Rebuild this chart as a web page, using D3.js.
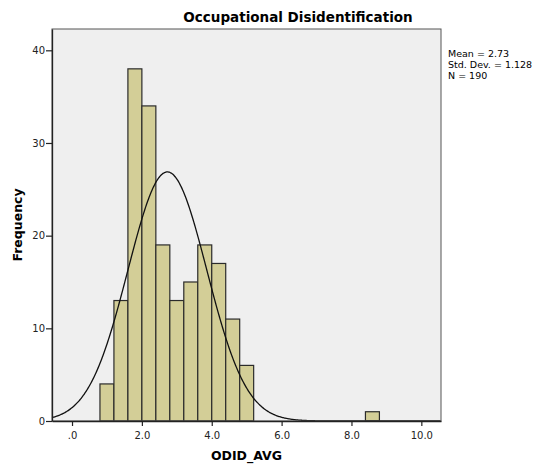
<!DOCTYPE html>
<html>
<head>
<meta charset="utf-8">
<script src="https://cdn.jsdelivr.net/npm/d3@7"></script>
<style>
  body { margin: 0; background: #fff; }
  text { font-family: "DejaVu Sans", sans-serif; }
</style>
</head>
<body>
<div id="chart"></div>
<script>
// histogram bins (lower edges) and counts
var binStarts = [0.8, 1.2, 1.6, 2.0, 2.4, 2.8, 3.2, 3.6, 4.0, 4.4, 4.8, 8.4];
var binCounts = [4, 13, 38, 34, 19, 13, 15, 19, 17, 11, 6, 1];
var binWidth = 0.4;

var xTicks = [0, 2, 4, 6, 8, 10];
var yTicks = [0, 10, 20, 30, 40];

var statMean = 2.73;
var statSd = 1.128;
var statN = 190;
var statLines = ["Mean = 2.73", "Std. Dev. = 1.128", "N = 190"];

var svgWidth = 537;
var svgHeight = 468;

var margin = { top: 29, right: 96, bottom: 47, left: 52 };
var width = svgWidth - margin.left - margin.right;
var height = svgHeight - margin.top - margin.bottom;

var svg = d3.select("#chart")
  .append("svg")
  .attr("width", svgWidth)
  .attr("height", svgHeight);

var chartGroup = svg.append("g")
  .attr("transform", `translate(${margin.left}, ${margin.top})`);

var xScale = d3.scaleLinear()
  .domain([-0.573, 10.563])
  .range([0, width]);

var yScale = d3.scaleLinear()
  .domain([0, 42.3])
  .range([height, 0]);

// plot background
chartGroup.append("rect")
  .attr("width", width)
  .attr("height", height)
  .attr("fill", "#efefef");

// bars
chartGroup.selectAll(".bar")
  .data(binStarts)
  .enter()
  .append("rect")
  .attr("class", "bar")
  .attr("x", d => xScale(d))
  .attr("y", (d, i) => yScale(binCounts[i]))
  .attr("width", d => xScale(d + binWidth) - xScale(d))
  .attr("height", (d, i) => height - yScale(binCounts[i]))
  .attr("fill", "#d3ce97")
  .attr("stroke", "#2b2b2b")
  .attr("stroke-width", 1.2);

// normal curve from the reported mean / sd
var scaleFactor = statN * binWidth / (statSd * Math.sqrt(2 * Math.PI));
var curveX = d3.range(-0.573, 10.563, 0.02);
var line = d3.line()
  .x(d => xScale(d))
  .y(d => yScale(scaleFactor * Math.exp(-0.5 * Math.pow((d - statMean) / statSd, 2))))
  .curve(d3.curveBasis);

chartGroup.append("path")
  .datum(curveX)
  .attr("d", line)
  .attr("fill", "none")
  .attr("stroke", "#111")
  .attr("stroke-width", 1.3);

// frame
chartGroup.append("rect")
  .attr("width", width)
  .attr("height", height)
  .attr("fill", "none")
  .attr("stroke", "#555")
  .attr("stroke-width", 1);

// axes
var bottomAxis = d3.axisBottom(xScale)
  .tickValues(xTicks)
  .tickSize(5)
  .tickSizeOuter(0)
  .tickFormat(d => d === 0 ? ".0" : d3.format(".1f")(d));

var leftAxis = d3.axisLeft(yScale)
  .tickValues(yTicks)
  .tickSize(6)
  .tickSizeOuter(0);

var xAxisG = chartGroup.append("g")
  .attr("transform", `translate(0, ${height})`)
  .call(bottomAxis);

var yAxisG = chartGroup.append("g")
  .call(leftAxis);

[xAxisG, yAxisG].forEach(function(g) {
  g.select(".domain").attr("stroke", "#222").attr("stroke-width", 1.3);
  g.selectAll(".tick line").attr("stroke", "#222").attr("stroke-width", 1.2);
  g.selectAll(".tick text")
    .attr("fill", "#222")
    .style("font-size", "10px")
    .style("font-family", "DejaVu Sans, sans-serif");
});
xAxisG.selectAll(".tick text").attr("dy", "0.95em");
yAxisG.selectAll(".tick text").attr("x", -7);

// title
svg.append("text")
  .attr("x", 298)
  .attr("y", 22)
  .attr("text-anchor", "middle")
  .style("font-size", "13.5px")
  .style("font-weight", "bold")
  .text("Occupational Disidentification");

// axis labels
svg.append("text")
  .attr("transform", `translate(22, ${margin.top + height / 2}) rotate(-90)`)
  .attr("text-anchor", "middle")
  .style("font-size", "12.5px")
  .style("font-weight", "bold")
  .text("Frequency");

svg.append("text")
  .attr("x", margin.left + width / 2)
  .attr("y", 460)
  .attr("text-anchor", "middle")
  .style("font-size", "12.5px")
  .style("font-weight", "bold")
  .text("ODID_AVG");

// stats
svg.selectAll(".stat")
  .data(statLines)
  .enter()
  .append("text")
  .attr("class", "stat")
  .attr("x", 448)
  .attr("y", (d, i) => 57 + i * 11)
  .style("font-size", "9.5px")
  .text(d => d);
</script>
</body>
</html>
